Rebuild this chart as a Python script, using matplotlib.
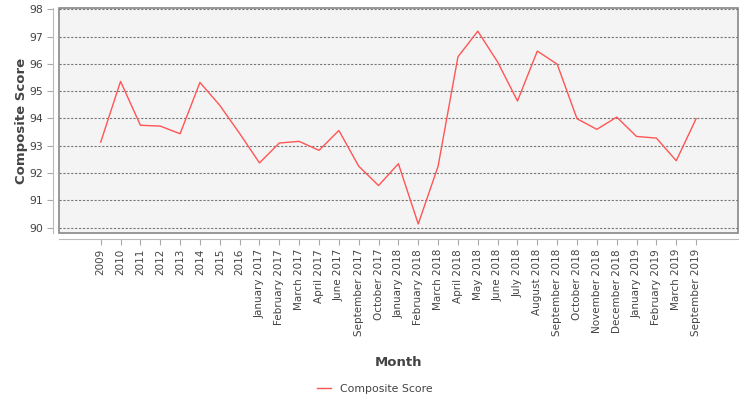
import matplotlib
matplotlib.use('Agg')
import matplotlib.pyplot as plt
from matplotlib.patches import Rectangle

months = ['2009', '2010', '2011', '2012', '2013', '2014', '2015', '2016',
          'January 2017', 'February 2017', 'March 2017', 'April 2017', 'June 2017',
          'September 2017', 'October 2017', 'January 2018', 'February 2018',
          'March 2018', 'April 2018', 'May 2018', 'June 2018', 'July 2018',
          'August 2018', 'September 2018', 'October 2018', 'November 2018',
          'December 2018', 'January 2019', 'February 2019', 'March 2019',
          'September 2019']
scores = [93.13, 95.36, 93.75, 93.72, 93.44, 95.32, 94.48, 93.45,
          92.37, 93.10, 93.16, 92.83, 93.56,
          92.25, 91.54, 92.34, 90.13,
          92.25, 96.26, 97.20, 96.07, 94.64,
          96.47, 95.99, 93.99, 93.60,
          94.05, 93.34, 93.28, 92.45,
          93.99]
yticks = [90, 91, 92, 93, 94, 95, 96, 97, 98]

text_col = '#444444'
fig = plt.figure(figsize=(7.5, 4), dpi=100)
ax = fig.add_axes([0.0787, 0.4175, 0.905, 0.5625])
ax.set_facecolor('none')
ax.add_patch(Rectangle((0, 0), 1, 1, transform=ax.transAxes, facecolor='#f4f4f4',
                       edgecolor='#888888', linewidth=1.2, zorder=0, clip_on=False))

x = list(range(len(months)))
ax.plot(x, scores, color='#ff5555', linewidth=1, label='Composite Score', zorder=3)

ax.set_xlim(-2.1, len(months) - 1 + 2.1)
ax.set_ylim(89.8, 98.05)
ax.set_yticks(yticks)
ax.set_xticks(x, months)
ax.tick_params(axis='y', labelsize=7.8, labelcolor=text_col, color='#aaaaaa', length=4)
ax.tick_params(axis='x', labelsize=7.5, labelcolor=text_col, labelrotation=90,
               color='#aaaaaa', length=4)
ax.yaxis.grid(True, linestyle=(0, (2, 1.5)), color='#777777', linewidth=0.8, zorder=1)
ax.set_axisbelow(True)

for s in ['top', 'right']:
    ax.spines[s].set_visible(False)
for s in ['left', 'bottom']:
    ax.spines[s].set_position(('outward', 4))
    ax.spines[s].set_color('#bbbbbb')

ax.set_ylabel('Composite Score', fontsize=9.5, fontweight='bold', color=text_col, labelpad=1)
ax.set_xlabel('Month', fontsize=9.5, fontweight='bold', color=text_col, labelpad=14)

fig.legend(loc='lower center', bbox_to_anchor=(0.5, -0.01), frameon=False,
           fontsize=7.8, handlelength=1.3, labelcolor=text_col)

fig.savefig('out.png', dpi=100)
